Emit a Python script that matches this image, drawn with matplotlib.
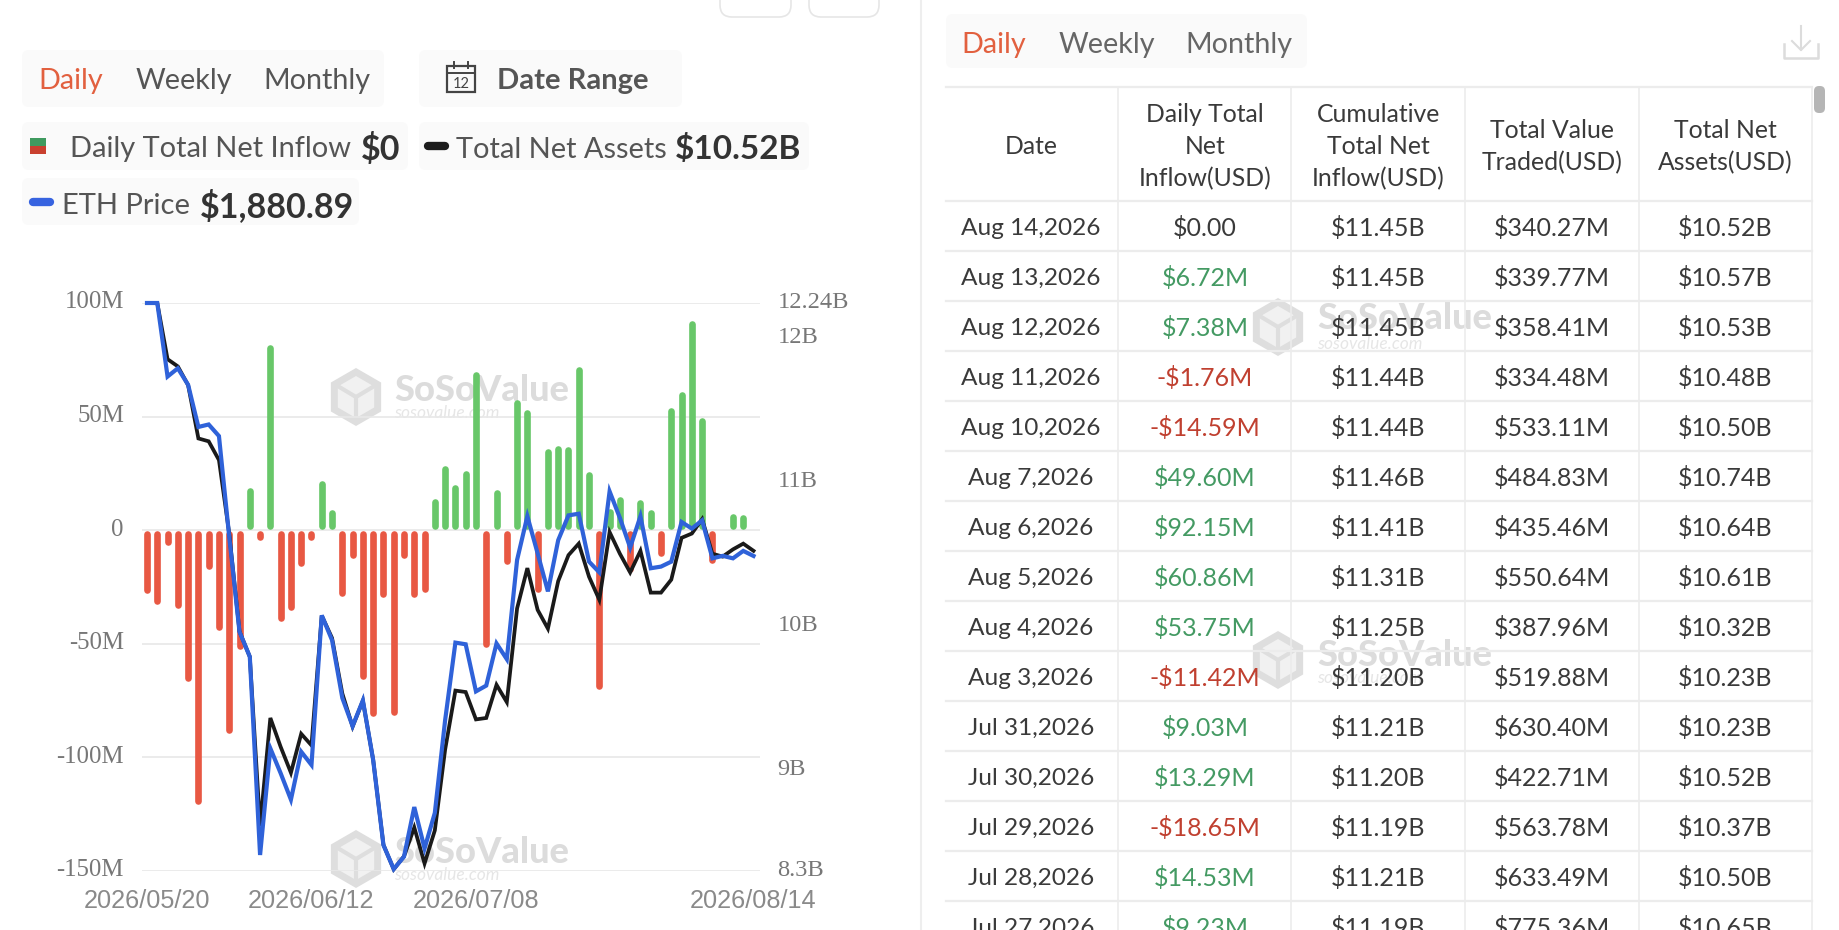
import matplotlib
matplotlib.use("Agg")
import matplotlib.pyplot as plt
from matplotlib.patches import FancyBboxPatch, Rectangle, RegularPolygon
from matplotlib.transforms import ScaledTranslation
import numpy as np

# ---------- data ----------
tick_dates = ["2026/05/20", "2026/06/12", "2026/07/08", "2026/08/14"]
tick_index = [0, 16, 32, 59]

net_inflow_m = [-28, -32.5, -6.7, -34.4, -66.5, -120.6, -17.4, -44, -89.7, -52.5,
                18.7, -4.7, 81.6, -40.4, -35.3, -15.8, -4.7, 21.8, 8.9, -29,
                -12.6, -65.7, -82.2, -29.8, -81.4, -12.6, -29.8, -27.3, 14, 28.4,
                19.9, 26.2, 69.6, -51.6, 17.7, -15.2, 57.6, 53, -27.6, 36,
                37.4, 36.8, 71.9, 25.7, -70.1, 9.23, 14.53, -18.65, 13.29, 9.03,
                -11.42, 53.75, 60.86, 92.15, 49.60, -14.59, -1.76, 7.38, 6.72, 0]

net_assets_b = [12.24, 12.24, 11.85, 11.80, 11.67, 11.30, 11.28, 11.15, 10.64, 9.96,
                9.785, 8.61, 9.36, 9.16, 8.98, 9.25, 9.17, 10.07, 9.915, 9.53,
                9.30, 9.48, 9.07, 8.48, 8.31, 8.40, 8.60, 8.35, 8.58, 9.14,
                9.55, 9.54, 9.35, 9.36, 9.59, 9.47, 10.12, 10.40, 10.11, 9.98,
                10.31, 10.49, 10.57, 10.34, 10.18, 10.65, 10.50, 10.37, 10.52, 10.23,
                10.23, 10.32, 10.61, 10.64, 10.74, 10.50, 10.48, 10.53, 10.57, 10.52]

eth_price = [2187, 2187, 2098, 2108, 2088, 2037, 2040, 2026, 1904, 1789,
             1759, 1519, 1648, 1618, 1586, 1644, 1628, 1809, 1779, 1709,
             1675, 1706, 1634, 1531, 1502, 1517, 1577, 1527, 1570, 1682,
             1776, 1774, 1717, 1724, 1775, 1756, 1876, 1929, 1884, 1838,
             1900, 1930, 1932, 1874, 1861, 1959, 1927, 1891, 1929, 1866,
             1868, 1874, 1922, 1914, 1924, 1878, 1881, 1878, 1887, 1880.89]

left_ticks = [100, 50, 0, -50, -100, -150]
left_labels = ["100M", "50M", "0", "-50M", "-100M", "-150M"]
right_ticks = [12.24, 12, 11, 10, 9, 8.3]
right_labels = ["12.24B", "12B", "11B", "10B", "9B", "8.3B"]

table_header = [["Date"], ["Daily Total", "Net", "Inflow(USD)"], ["Cumulative", "Total Net", "Inflow(USD)"],
                ["Total Value", "Traded(USD)"], ["Total Net", "Assets(USD)"]]
t_dates = ["Aug 14,2026", "Aug 13,2026", "Aug 12,2026", "Aug 11,2026", "Aug 10,2026", "Aug 7,2026", "Aug 6,2026",
           "Aug 5,2026", "Aug 4,2026", "Aug 3,2026", "Jul 31,2026", "Jul 30,2026", "Jul 29,2026", "Jul 28,2026", "Jul 27,2026"]
t_inflow = ["$0.00", "$6.72M", "$7.38M", "-$1.76M", "-$14.59M", "$49.60M", "$92.15M", "$60.86M", "$53.75M",
            "-$11.42M", "$9.03M", "$13.29M", "-$18.65M", "$14.53M", "$9.23M"]
t_cum = ["$11.45B", "$11.45B", "$11.45B", "$11.44B", "$11.44B", "$11.46B", "$11.41B", "$11.31B", "$11.25B",
         "$11.20B", "$11.21B", "$11.20B", "$11.19B", "$11.21B", "$11.19B"]
t_traded = ["$340.27M", "$339.77M", "$358.41M", "$334.48M", "$533.11M", "$484.83M", "$435.46M", "$550.64M",
            "$387.96M", "$519.88M", "$630.40M", "$422.71M", "$563.78M", "$633.49M", "$775.36M"]
t_assets = ["$10.52B", "$10.57B", "$10.53B", "$10.48B", "$10.50B", "$10.74B", "$10.64B", "$10.61B", "$10.32B",
            "$10.23B", "$10.23B", "$10.52B", "$10.37B", "$10.50B", "$10.65B"]

# ---------- styles ----------
W, H = 1840, 930
UI = "Lato"
PILL = "#fafafa"
ORANGE = "#e2603f"
DARK = "#3a3a3a"
MID = "#555555"
GREEN_T = "#449a63"
RED_T = "#c04030"
GRID = "#e8e8e8"
LINE = "#ececec"

fig = plt.figure(figsize=(W / 100, H / 100), dpi=100, facecolor="white")
ui = fig.add_axes([0, 0, 1, 1])
ui.set_xlim(0, W)
ui.set_ylim(H, 0)
ui.axis("off")


def pill(x0, y0, x1, y1, fc=PILL, ec="none", lw=0, r=7, z=1):
    ui.add_patch(FancyBboxPatch((x0, y0), x1 - x0, y1 - y0, boxstyle=f"round,pad=0,rounding_size={r}",
                                fc=fc, ec=ec, lw=lw, zorder=z, clip_on=True))


def txt(x, y, s, size=20, color=DARK, weight="normal", ha="left", va="center_baseline", z=5, **kw):
    ui.text(x, y, s, fontsize=size, color=color, weight=weight, ha=ha, va=va, family=UI, zorder=z, **kw)


def watermark(lx, ly, tx0, ty, sy):
    ui.add_patch(RegularPolygon((lx, ly), 6, radius=25, orientation=0, fc="#f1f1f1", ec="#dedede", lw=5, zorder=2))
    ui.plot([lx - 20, lx, lx + 20], [ly - 12, ly, ly - 12], color="#dedede", lw=3, zorder=2)
    ui.plot([lx, lx], [ly, ly + 24], color="#dedede", lw=3, zorder=2)
    ui.text(tx0, ty, "SoSoValue", fontsize=26, weight="black", color="#dcdcdc", family=UI, va="center", zorder=2)
    ui.text(tx0, sy, "sosovalue.com", fontsize=12.5, style="italic", color="#e6e6e6", family=UI, va="center", zorder=2)


# top stubs
pill(720, -30, 791, 17, fc="white", ec="#e6e6e6", lw=1.2, r=12)
pill(809, -30, 879, 17, fc="white", ec="#e6e6e6", lw=1.2, r=12)

# left controls
pill(22, 50, 384, 107)
txt(38, 79, "Daily", size=20.7, color=ORANGE)
txt(136, 79, "Weekly", size=20.7, color=MID)
txt(263, 79, "Monthly", size=20.7, color=MID)
pill(419, 50, 682, 107)
ui.add_patch(Rectangle((447, 66), 28, 26, fc="none", ec="#444444", lw=1.6, zorder=5))
ui.plot([447, 475], [73, 73], color="#444444", lw=1.4, zorder=5)
ui.plot([454, 454], [62, 68], color="#444444", lw=1.4, zorder=5)
ui.plot([468, 468], [62, 68], color="#444444", lw=1.4, zorder=5)
txt(461, 83, "12", size=10.5, color="#444444", ha="center")
txt(497, 79, "Date Range", size=21, color=MID, weight="bold")

# legend
pill(22, 122, 408, 170)
ui.add_patch(Rectangle((30.5, 138), 15.5, 8, fc="#3f9a5f", zorder=5))
ui.add_patch(Rectangle((30.5, 146), 15.5, 8, fc="#c9402f", zorder=5))
txt(70, 147, "Daily Total Net Inflow", size=20.9, color=MID)
txt(361, 147, "$0", size=24.5, color="#333333", weight="bold")
pill(419, 122, 809, 170)
ui.plot([428, 445], [146, 146], color="#1c1c1c", lw=6, solid_capstyle="round", zorder=5)
txt(456, 147, "Total Net Assets", size=20.9, color=MID)
txt(675, 147, "$10.52B", size=24, color="#333333", weight="bold")
pill(22, 178, 359, 225)
ui.plot([33, 50], [202, 202], color="#3763e0", lw=6, solid_capstyle="round", zorder=5)
txt(62, 203, "ETH Price", size=21, color=MID)
txt(200, 203, "$1,880.89", size=24.5, color="#333333", weight="bold")

# separator
ui.plot([921, 921], [0, H], color="#eeeeee", lw=1.5, zorder=1)

# right controls
pill(946, 14, 1307, 68)
txt(961, 43, "Daily", size=20.7, color=ORANGE)
txt(1059, 43, "Weekly", size=20.7, color="#666666")
txt(1185, 43, "Monthly", size=20.7, color="#666666")
ui.plot([1784, 1784, 1818, 1818], [44, 58, 58, 44], color="#dcdcdc", lw=1.8, zorder=5)
ui.plot([1801, 1801], [26, 50], color="#dcdcdc", lw=1.5, zorder=5)
ui.plot([1792, 1801, 1810], [41, 50, 41], color="#dcdcdc", lw=1.5, zorder=5)
pill(1814, 86, 1825, 113, fc="#b5b5b5", r=5, z=5)

# table
col_x = [1031, 1205, 1378.5, 1552, 1725.5]
v_lines = [1118, 1291.5, 1465, 1639]
h_lines = [87, 201] + [251 + 50 * i for i in range(14)]
for y in h_lines:
    ui.plot([946, 1812], [y, y], color=LINE, lw=1.6, zorder=3)
for x_v in v_lines + [1812]:
    ui.plot([x_v, x_v], [87, H], color=LINE, lw=1.2, zorder=3)
for cx, lines in zip(col_x, table_header):
    ys = {1: [145], 2: [128, 161], 3: [113, 145, 177]}[len(lines)]
    for yy, s in zip(ys, lines):
        txt(cx, yy, s, size=17.8, color=DARK, ha="center")
for i in range(len(t_dates)):
    yc = 226 + 50 * i
    txt(col_x[0], yc, t_dates[i], size=17.6, ha="center")
    s = t_inflow[i]
    col = DARK if s == "$0.00" else (RED_T if s.startswith("-") else GREEN_T)
    txt(col_x[1], yc, s, size=18, color=col, ha="center")
    txt(col_x[2], yc, t_cum[i], size=18, ha="center")
    txt(col_x[3], yc, t_traded[i], size=18, ha="center")
    txt(col_x[4], yc, t_assets[i], size=18, ha="center")

# watermarks
watermark(356, 397, 394, 390, 413)
watermark(356, 859, 394, 852, 875)
watermark(1278, 327, 1317, 318, 344)
watermark(1278, 660, 1317, 655, 678)

# ---------- chart ----------
L, R, T, B = 142, 760, 303, 870.7
rect = [L / W, (H - B) / H, (R - L) / W, (B - T) / H]
ax = fig.add_axes(rect)
ax.patch.set_visible(False)
x = np.arange(len(net_inflow_m))
ax.set_xlim(-0.486, 59.63)
ax.set_ylim(-150, 100)

cap = 3.35 * 250 / (B - T)  # half bar width in data units, so the round caps end at the value
vals = np.array(net_inflow_m, dtype=float)
mask = vals != 0
sgn = np.sign(vals[mask])
start = sgn * cap * 1.1
stop = vals[mask] - sgn * cap
small = np.abs(stop) < np.abs(start)
start[small] = vals[mask][small] / 2
stop[small] = vals[mask][small] / 2 + sgn[small] * 0.01
cols = np.where(sgn > 0, "#68c769", "#e85843")
bars = ax.vlines(x[mask], start, stop, colors=list(cols), linewidth=4.8, zorder=2)
bars.set_capstyle("round")

up3 = ScaledTranslation(0, 3 / 100, fig.dpi_scale_trans)
ax.set_yticks(left_ticks)
ax.set_yticklabels(left_labels, family="Liberation Serif", fontsize=17.8, color="#777777")
ax.set_xticks(tick_index)
ax.set_xticklabels(tick_dates, family="Liberation Sans", fontsize=18.2, color="#8a8a8a")
ax.tick_params(axis="y", length=0, pad=13)
ax.tick_params(axis="x", length=0, pad=13)
for lbl in ax.get_yticklabels():
    lbl.set_transform(lbl.get_transform() + up3)
ax.grid(axis="y", color=GRID, lw=1.2, zorder=0)
ax.set_axisbelow(True)
for s in ax.spines.values():
    s.set_visible(False)

ax2 = ax.twinx()
ax2.set_ylim(8.3, 12.24)
ax2.set_yticks(right_ticks)
ax2.set_yticklabels(right_labels, family="Liberation Serif", fontsize=17.6, color="#777777")
ax2.tick_params(axis="y", length=0, pad=12.5)
for lbl in ax2.get_yticklabels():
    lbl.set_transform(lbl.get_transform() + up3)
ax2.plot(x, net_assets_b, color="#1a1a1a", lw=2.7, solid_joinstyle="miter", clip_on=False, zorder=3)
for s in ax2.spines.values():
    s.set_visible(False)

ax3 = ax.twinx()
ax3.set_ylim(1500, 2187)
ax3.axis("off")
ax3.plot(x, eth_price, color="#2f62d9", lw=3.0, solid_joinstyle="miter", clip_on=False, zorder=4)

fig.savefig("out.png", dpi=100, facecolor="white")
